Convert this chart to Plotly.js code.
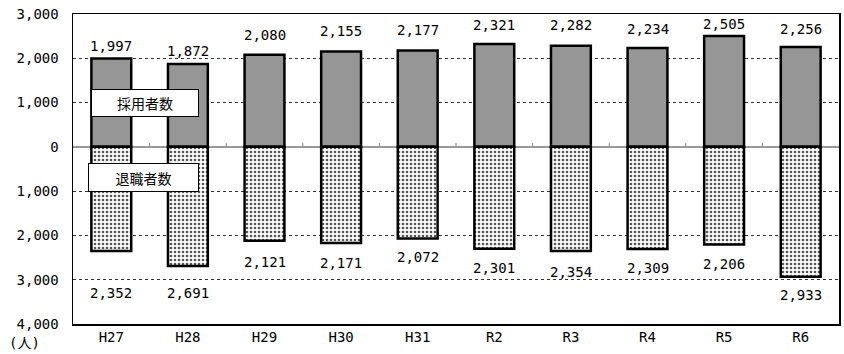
<!DOCTYPE html>
<html><head><meta charset="utf-8">
<script src="https://cdn.plot.ly/plotly-3.0.1.min.js"></script>
<style>html,body{margin:0;padding:0;background:#fff}#chart{width:844px;height:354px}</style>
</head><body><div id="chart"></div>
<script>
const categories = ["H27","H28","H29","H30","H31","R2","R3","R4","R5","R6"];
const hired = [1997,1872,2080,2155,2177,2321,2282,2234,2505,2256];
const retired = [2352,2691,2121,2171,2072,2301,2354,2309,2206,2933];
const yTickVals = [3000,2000,1000,0,-1000,-2000,-3000,-4000];
const yTickText = ["3,000","2,000","1,000","0","1,000","2,000","3,000","4,000"];
const seriesNames = ["採用者数","退職者数"];
// label pixel offsets from bar ends (as in the reference)
const hiredLabelShift = [12,13,20,20,20,19,21,19,12,18];
const retiredLabelShift = [42,27,21,20,18,19,21,19,19,18];

const FONT = "'DejaVu Sans Mono', 'Noto Sans CJK JP', monospace";
const fmt = v => v.toLocaleString("en-US");

const traces = [
  {type:"bar", x:categories, y:hired, name:seriesNames[0], width:0.52,
   marker:{color:"#969696", line:{color:"#000", width:2.5}}, hoverinfo:"skip"},
  {type:"bar", x:categories, y:retired.map(v=>-v), name:seriesNames[1], width:0.52,
   marker:{color:"#fff", line:{color:"#000", width:2.5},
     pattern:{shape:".", fgcolor:"#555", bgcolor:"#fff", size:4, solidity:0.35}}, hoverinfo:"skip"}
];

const annotations = [];
categories.forEach((c,i)=>{
  annotations.push({x:c, y:hired[i], text:fmt(hired[i]), showarrow:false, yanchor:"middle",
    yshift:hiredLabelShift[i], font:{family:FONT, size:14, color:"#000"}});
  annotations.push({x:c, y:-retired[i], text:fmt(retired[i]), showarrow:false, yanchor:"middle",
    yshift:-retiredLabelShift[i], font:{family:FONT, size:14, color:"#000"}});
});
annotations.push({xref:"paper", yref:"paper", x:-0.086, y:-0.06, xanchor:"left", yanchor:"middle",
  text:"(人)", showarrow:false, font:{family:FONT, size:14, color:"#000"}});
annotations.push({xref:"paper", yref:"y", x:0.024, y:1000, xanchor:"left", yanchor:"middle",
  text:seriesNames[0], showarrow:false, bgcolor:"#fff", bordercolor:"#000", borderwidth:1,
  width:104, height:24, font:{family:"'Noto Sans CJK JP'", size:14, color:"#000"}});
annotations.push({xref:"paper", yref:"y", x:0.02, y:-700, xanchor:"left", yanchor:"middle",
  text:seriesNames[1], showarrow:false, bgcolor:"#fff", bordercolor:"#000", borderwidth:1,
  width:107, height:25, font:{family:"'Noto Sans CJK JP'", size:14, color:"#000"}});

const shapes = [];
for (let i=0;i<categories.length-1;i++){
  shapes.push({type:"line", xref:"x", yref:"y", ysizemode:"pixel", yanchor:0,
    x0:i+0.5, x1:i+0.5, y0:0, y1:4, line:{color:"#888", width:1}});
}

const layout = {
  width:844, height:354,
  margin:{l:73, r:5, t:14, b:30},
  paper_bgcolor:"#fff", plot_bgcolor:"#fff",
  barmode:"relative", showlegend:false,
  font:{family:FONT, size:14, color:"#000"},
  xaxis:{type:"category", showgrid:false, zeroline:false, ticks:"",
    showline:true, linecolor:"#000", linewidth:1.5, mirror:true,
    tickfont:{family:FONT, size:14}, range:[-0.5, categories.length-0.5]},
  yaxis:{range:[-4000,3000], tickvals:yTickVals, ticktext:yTickText,
    showgrid:true, gridcolor:"#333", griddash:"dot", gridwidth:1,
    zeroline:true, zerolinecolor:"#999", zerolinewidth:2,
    showline:true, linecolor:"#000", linewidth:1.5, mirror:true,
    ticks:"", ticklabelstandoff:10, tickfont:{family:FONT, size:14}},
  annotations, shapes
};
Plotly.newPlot("chart", traces, layout, {staticPlot:true, displayModeBar:false});
</script></body></html>
